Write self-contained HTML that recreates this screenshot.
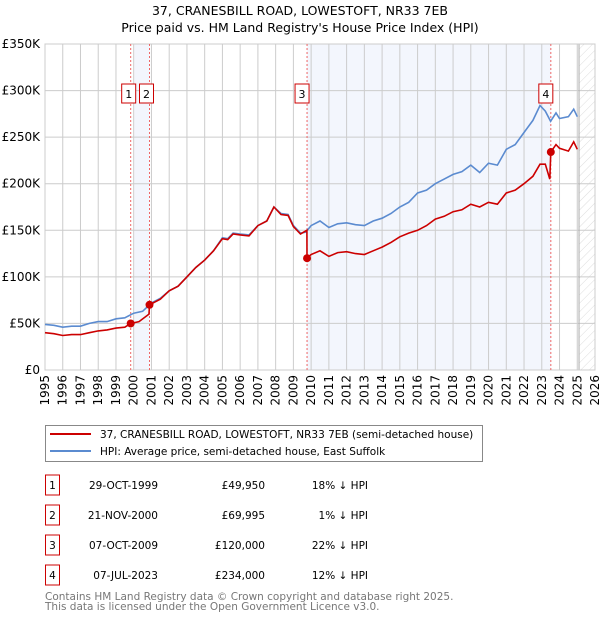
<!DOCTYPE html>
<html><head><meta charset="utf-8"><style>
body{margin:0;width:600px;height:620px;background:#fff;font-family:"DejaVu Sans","Liberation Sans",sans-serif;overflow:hidden}
svg{display:block}
</style></head><body>
<svg id="c" width="600" height="620" xmlns="http://www.w3.org/2000/svg">
<defs><pattern id="hatch" width="6" height="6" patternUnits="userSpaceOnUse" patternTransform="rotate(45)"><line x1="0" y1="0" x2="0" y2="6" stroke="#ddd" stroke-width="1"/></pattern></defs>
<text x="300" y="15" text-anchor="middle" font-size="12.5" fill="#000">37, CRANESBILL ROAD, LOWESTOFT, NR33 7EB</text>
<text x="300" y="32" text-anchor="middle" font-size="12.5" fill="#000">Price paid vs. HM Land Registry's House Price Index (HPI)</text>
<g id="plot"></g>
<g>
<rect x="45.5" y="425.5" width="437" height="36" fill="#fff" stroke="#888"/>
<line x1="50" y1="434" x2="91" y2="434" stroke="#cc0000" stroke-width="2"/>
<text x="100" y="438" font-size="10.5">37, CRANESBILL ROAD, LOWESTOFT, NR33 7EB (semi-detached house)</text>
<line x1="50" y1="451" x2="91" y2="451" stroke="#5b8bd0" stroke-width="2"/>
<text x="100" y="455" font-size="10.5">HPI: Average price, semi-detached house, East Suffolk</text>
</g>
<g id="table" font-size="10.5"></g>
<text x="45" y="600" font-size="10.5" fill="#777">Contains HM Land Registry data © Crown copyright and database right 2025.</text>
<text x="45" y="610" font-size="10.5" fill="#777">This data is licensed under the Open Government Licence v3.0.</text>
</svg>
<script>
const hpiT=[1995,1995.5,1996,1996.5,1997,1997.5,1998,1998.5,1999,1999.5,2000,2000.5,2001,2001.5,2002,2002.5,2003,2003.5,2004,2004.5,2005,2005.3,2005.6,2006,2006.5,2007,2007.5,2007.9,2008.3,2008.7,2009,2009.4,2009.7,2010,2010.5,2011,2011.5,2012,2012.5,2013,2013.5,2014,2014.5,2015,2015.5,2016,2016.5,2017,2017.5,2018,2018.5,2019,2019.5,2020,2020.5,2021,2021.5,2022,2022.5,2022.9,2023.2,2023.5,2023.8,2024,2024.5,2024.8,2025];
const hpiV=[49,48,46,47,47,50,52,52,55,56,61,63,72,77,85,90,100,110,118,128,142,141,147,146,145,155,160,175,168,167,155,147,148,155,160,153,157,158,156,155,160,163,168,175,180,190,193,200,205,210,213,220,212,222,220,237,242,255,268,284,278,267,276,270,272,280,272];
const propT=[1995,1995.5,1996,1996.5,1997,1997.5,1998,1998.5,1999,1999.5,1999.83,2000.3,2000.86,2000.89,2001.5,2002,2002.5,2003,2003.5,2004,2004.5,2005,2005.3,2005.6,2006,2006.5,2007,2007.5,2007.9,2008.3,2008.7,2009,2009.4,2009.76,2009.77,2010,2010.5,2011,2011.5,2012,2012.5,2013,2013.5,2014,2014.5,2015,2015.5,2016,2016.5,2017,2017.5,2018,2018.5,2019,2019.5,2020,2020.5,2021,2021.5,2022,2022.5,2022.9,2023.2,2023.45,2023.51,2023.8,2024,2024.5,2024.8,2025];
const propV=[40,39,37,38,38,40,42,43,45,46,49.95,52,60,69.995,76,85,90,100,110,118,128,141,140,146,145,144,155,160,175,167,166,154,146,150,120,124,128,122,126,127,125,124,128,132,137,143,147,150,155,162,165,170,172,178,175,180,178,190,193,200,208,221,221,205,234,242,238,235,245,237];
const saleT=[1999.83,2000.89,2009.77,2023.51];
const saleV=[49.95,69.995,120,234];
const saleLabels=["1","2","3","4"];
const yTicks=[0,50,100,150,200,250,300,350];
const yTickLabels=["£0","£50K","£100K","£150K","£200K","£250K","£300K","£350K"];
const xYears=[1995,1996,1997,1998,1999,2000,2001,2002,2003,2004,2005,2006,2007,2008,2009,2010,2011,2012,2013,2014,2015,2016,2017,2018,2019,2020,2021,2022,2023,2024,2025,2026];
const tDates=["29-OCT-1999","21-NOV-2000","07-OCT-2009","07-JUL-2023"];
const tPrices=["£49,950","£69,995","£120,000","£234,000"];
const tPcts=["18% ↓ HPI","1% ↓ HPI","22% ↓ HPI","12% ↓ HPI"];

const X0=45,X1=595,Y0=370,Y1=44;
const xs=t=>X0+(t-1995)/(2026-1995)*(X1-X0);
const ys=v=>Y0-v/350*(Y0-Y1);
const NS="http://www.w3.org/2000/svg";
const plot=document.getElementById('plot');
function mk(tag,at,parent){const e=document.createElementNS(NS,tag);for(const k in at)e.setAttribute(k,at[k]);(parent||plot).appendChild(e);return e;}

let e;
e=mk('rect',{x:xs(2000.05),y:Y1,width:xs(saleT[1])-xs(2000.05),height:Y0-Y1,fill:'#f3f6fd'});


e=mk('rect',{x:xs(saleT[2]),y:Y1,width:xs(saleT[3])-xs(saleT[2]),height:Y0-Y1,fill:'#f3f6fd'});


e=mk('rect',{x:xs(2025.1),y:Y1,width:X1-xs(2025.1),height:Y0-Y1,fill:'url(#hatch)'});



yTicks.forEach((v,i)=>{
  e=mk('line',{x1:X0,x2:X1,y1:ys(v),y2:ys(v),stroke:'#ccc'});
  
  
  e=mk('text',{x:X0-5,y:ys(v)+4,'text-anchor':'end','font-size':'12'});
  e.textContent=yTickLabels[i];
  
  
});
xYears.forEach(y=>{
  e=mk('line',{x1:xs(y),x2:xs(y),y1:Y1,y2:Y0,stroke:'#ccc'});
  
  
  const tx=xs(y)+4,ty=Y0+5;
  e=mk('text',{x:tx,y:ty,'text-anchor':'end','font-size':'12',transform:`rotate(-90 ${tx} ${ty})`});
  e.textContent=y;
  
  
});
e=mk('line',{x1:xs(2025.1),x2:xs(2025.1),y1:Y1,y2:Y0,stroke:'#aaa','stroke-width':1});


e=mk('rect',{x:X0,y:Y1,width:X1-X0,height:Y0-Y1,fill:'none',stroke:'#ccc'});



saleT.forEach((t,i)=>{
  e=mk('line',{x1:xs(t),x2:xs(t),y1:Y1,y2:Y0,stroke:'#e66','stroke-dasharray':'2,2'});
  
  
  const cx=(i==0)?xs(t)-2:(i==1?xs(t)-3:xs(t)-5);
  e=mk('rect',{x:cx-7,y:84,width:14,height:19,fill:'#fff',stroke:'#cc0000'});
  
  
  e=mk('text',{x:cx,y:98,'text-anchor':'middle','font-size':'11'});
  e.textContent=saleLabels[i];
  
  
});

function path(T,V){return T.map((t,i)=>(i?'L':'M')+xs(t).toFixed(1)+','+ys(V[i]).toFixed(1)).join('');}
e=mk('path',{d:path(hpiT,hpiV),fill:'none',stroke:'#5b8bd0','stroke-width':1.6});


e=mk('path',{d:path(propT,propV),fill:'none',stroke:'#cc0000','stroke-width':1.6});


saleT.forEach((t,i)=>{
  e=mk('circle',{cx:xs(t),cy:ys(saleV[i]),r:4,fill:'#cc0000'});
  
  
});

const tb=document.getElementById('table');
saleLabels.forEach((l,i)=>{
  const y=485+i*30;
  e=mk('rect',{x:45.5,y:y-10,width:14,height:20,fill:'#fff',stroke:'#cc0000'},tb);
  
  
  e=mk('text',{x:52.5,y:y+4,'text-anchor':'middle'},tb);e.textContent=l;
  
  
  e=mk('text',{x:158,y:y+4,'text-anchor':'end'},tb);e.textContent=tDates[i];
  
  
  e=mk('text',{x:265,y:y+4,'text-anchor':'end'},tb);e.textContent=tPrices[i];
  
  
  e=mk('text',{x:368,y:y+4,'text-anchor':'end'},tb);e.textContent=tPcts[i];
  
  
});
</script>
</body></html>
